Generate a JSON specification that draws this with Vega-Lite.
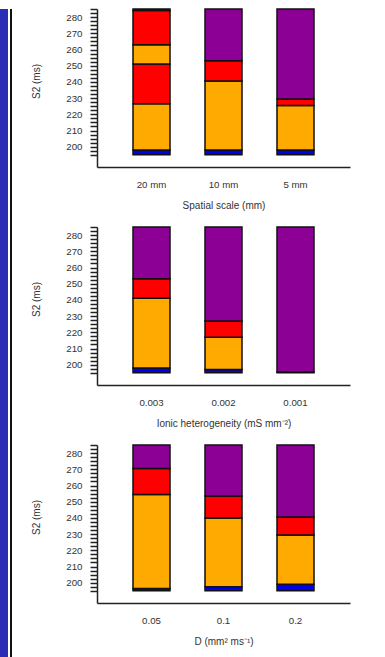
{
  "$schema": "https://vega.github.io/schema/vega-lite/v6.json",
  "background": "white",
  "padding": {"left": 0, "top": 0, "right": 0, "bottom": 0},
  "config": {
    "font": "Liberation Sans",
    "view": {"stroke": null},
    "axis": {
      "grid": false,
      "labelFont": "Liberation Sans",
      "titleFont": "Liberation Sans",
      "labelFontSize": 9.7,
      "titleFontSize": 10,
      "titleFontWeight": "normal",
      "labelColor": "#333333",
      "titleColor": "#333333",
      "domainColor": "#222222",
      "domainWidth": 1.5,
      "tickColor": "#222222",
      "tickWidth": 1.5,
      "labelOverlap": false,
      "labelFlush": false
    }
  },
  "datasets": {
    "spatial": [
      {"cat": "20 mm", "k": "blue", "lo": 195, "hi": 198},
      {"cat": "20 mm", "k": "orange", "lo": 198, "hi": 226.5},
      {"cat": "20 mm", "k": "red", "lo": 226.5, "hi": 251},
      {"cat": "20 mm", "k": "orange", "lo": 251, "hi": 263},
      {"cat": "20 mm", "k": "red", "lo": 263, "hi": 284},
      {"cat": "20 mm", "k": "black", "lo": 284, "hi": 285},
      {"cat": "10 mm", "k": "blue", "lo": 195, "hi": 198},
      {"cat": "10 mm", "k": "orange", "lo": 198, "hi": 240.5},
      {"cat": "10 mm", "k": "red", "lo": 240.5, "hi": 253},
      {"cat": "10 mm", "k": "purple", "lo": 253, "hi": 285},
      {"cat": "5 mm", "k": "blue", "lo": 195, "hi": 198},
      {"cat": "5 mm", "k": "orange", "lo": 198, "hi": 225.5},
      {"cat": "5 mm", "k": "red", "lo": 225.5, "hi": 229.5},
      {"cat": "5 mm", "k": "purple", "lo": 229.5, "hi": 285}
    ],
    "ionic": [
      {"cat": "0.003", "k": "blue", "lo": 195, "hi": 198},
      {"cat": "0.003", "k": "orange", "lo": 198, "hi": 241},
      {"cat": "0.003", "k": "red", "lo": 241, "hi": 253},
      {"cat": "0.003", "k": "purple", "lo": 253, "hi": 285},
      {"cat": "0.002", "k": "blue", "lo": 195, "hi": 197},
      {"cat": "0.002", "k": "orange", "lo": 197, "hi": 217},
      {"cat": "0.002", "k": "red", "lo": 217, "hi": 227},
      {"cat": "0.002", "k": "purple", "lo": 227, "hi": 285},
      {"cat": "0.001", "k": "blue", "lo": 195, "hi": 195.5},
      {"cat": "0.001", "k": "purple", "lo": 195.5, "hi": 285}
    ],
    "diffusion": [
      {"cat": "0.05", "k": "blue", "lo": 195, "hi": 196.5},
      {"cat": "0.05", "k": "orange", "lo": 196.5, "hi": 254.5},
      {"cat": "0.05", "k": "red", "lo": 254.5, "hi": 270.5},
      {"cat": "0.05", "k": "purple", "lo": 270.5, "hi": 285},
      {"cat": "0.1", "k": "blue", "lo": 195, "hi": 197.5},
      {"cat": "0.1", "k": "orange", "lo": 197.5, "hi": 240},
      {"cat": "0.1", "k": "red", "lo": 240, "hi": 253.5},
      {"cat": "0.1", "k": "purple", "lo": 253.5, "hi": 285},
      {"cat": "0.2", "k": "blue", "lo": 195, "hi": 199},
      {"cat": "0.2", "k": "orange", "lo": 199, "hi": 229.5},
      {"cat": "0.2", "k": "red", "lo": 229.5, "hi": 240.5},
      {"cat": "0.2", "k": "purple", "lo": 240.5, "hi": 285}
    ],
    "strip": [{"part": "edge"}]
  },
  "spacing": 13,
  "hconcat": [
    {
      "spacing": 0,
      "hconcat": [
        {"width": 8, "height": 660, "data": {"name": "strip"}, "mark": {"type": "point", "opacity": 0}, "encoding": {}, "view": {"fill": "#2b2db6", "stroke": null}},
        {"width": 2, "height": 660, "data": {"name": "strip"}, "mark": {"type": "point", "opacity": 0}, "encoding": {}, "view": {"fill": "#111111", "stroke": null}}
      ]
    },
    {
      "spacing": 60,
      "bounds": "flush",
      "vconcat": [
        {
          "width": 253, "height": 158,
          "view": {"stroke": "transparent", "strokeWidth": 7},
          "data": {"name": "spatial"},
          "mark": {"type": "bar", "stroke": "#111111", "strokeWidth": 1.5},
          "encoding": {
            "x": {"field": "cat", "type": "nominal", "sort": null,
              "scale": {"paddingInner": 0.486, "paddingOuter": 0.5},
              "axis": {"title": "Spatial scale (mm)", "labelAngle": 0, "ticks": false, "labelPadding": 17.5, "labelBaseline": "middle", "titleY": 38, "titleBaseline": "middle"}},
            "y": {"field": "lo", "type": "quantitative",
              "scale": {"domain": [187.5, 285], "nice": false, "zero": false},
              "axis": {"title": "S2 (ms)", "values": [195, 197.5, 200, 202.5, 205, 207.5, 210, 212.5, 215, 217.5, 220, 222.5, 225, 227.5, 230, 232.5, 235, 237.5, 240, 242.5, 245, 247.5, 250, 252.5, 255, 257.5, 260, 262.5, 265, 267.5, 270, 272.5, 275, 277.5, 280, 282.5, 285],
                "labelExpr": "datum.value % 10 === 0 ? datum.label : ''", "tickSize": 7, "labelPadding": 8, "titleX": -61, "titleY": 72, "titleBaseline": "middle", "titleAlign": "center", "titleAngle": 270}},
            "y2": {"field": "hi"},
            "color": {"field": "k", "type": "nominal", "legend": null,
              "scale": {"domain": ["blue", "orange", "red", "purple", "black"], "range": ["#0000ee", "#ffaa00", "#ff0000", "#8c0096", "#111111"]}}
          }
        },
        {
          "width": 253, "height": 158,
          "data": {"name": "ionic"},
          "mark": {"type": "bar", "stroke": "#111111", "strokeWidth": 1.5},
          "encoding": {
            "x": {"field": "cat", "type": "nominal", "sort": null,
              "scale": {"paddingInner": 0.486, "paddingOuter": 0.5},
              "axis": {"title": "Ionic heterogeneity (mS mm⁻²)", "labelAngle": 0, "ticks": false, "labelPadding": 17.5, "labelBaseline": "middle", "titleY": 38, "titleBaseline": "middle"}},
            "y": {"field": "lo", "type": "quantitative",
              "scale": {"domain": [187.5, 285], "nice": false, "zero": false},
              "axis": {"title": "S2 (ms)", "values": [195, 197.5, 200, 202.5, 205, 207.5, 210, 212.5, 215, 217.5, 220, 222.5, 225, 227.5, 230, 232.5, 235, 237.5, 240, 242.5, 245, 247.5, 250, 252.5, 255, 257.5, 260, 262.5, 265, 267.5, 270, 272.5, 275, 277.5, 280, 282.5, 285],
                "labelExpr": "datum.value % 10 === 0 ? datum.label : ''", "tickSize": 7, "labelPadding": 8, "titleX": -61, "titleY": 72, "titleBaseline": "middle", "titleAlign": "center", "titleAngle": 270}},
            "y2": {"field": "hi"},
            "color": {"field": "k", "type": "nominal", "legend": null,
              "scale": {"domain": ["blue", "orange", "red", "purple", "black"], "range": ["#0000ee", "#ffaa00", "#ff0000", "#8c0096", "#111111"]}}
          }
        },
        {
          "width": 253, "height": 158,
          "data": {"name": "diffusion"},
          "mark": {"type": "bar", "stroke": "#111111", "strokeWidth": 1.5},
          "encoding": {
            "x": {"field": "cat", "type": "nominal", "sort": null,
              "scale": {"paddingInner": 0.486, "paddingOuter": 0.5},
              "axis": {"title": "D (mm² ms⁻¹)", "labelAngle": 0, "ticks": false, "labelPadding": 17.5, "labelBaseline": "middle", "titleY": 38, "titleBaseline": "middle"}},
            "y": {"field": "lo", "type": "quantitative",
              "scale": {"domain": [187.5, 285], "nice": false, "zero": false},
              "axis": {"title": "S2 (ms)", "values": [195, 197.5, 200, 202.5, 205, 207.5, 210, 212.5, 215, 217.5, 220, 222.5, 225, 227.5, 230, 232.5, 235, 237.5, 240, 242.5, 245, 247.5, 250, 252.5, 255, 257.5, 260, 262.5, 265, 267.5, 270, 272.5, 275, 277.5, 280, 282.5, 285],
                "labelExpr": "datum.value % 10 === 0 ? datum.label : ''", "tickSize": 7, "labelPadding": 8, "titleX": -61, "titleY": 72, "titleBaseline": "middle", "titleAlign": "center", "titleAngle": 270}},
            "y2": {"field": "hi"},
            "color": {"field": "k", "type": "nominal", "legend": null,
              "scale": {"domain": ["blue", "orange", "red", "purple", "black"], "range": ["#0000ee", "#ffaa00", "#ff0000", "#8c0096", "#111111"]}}
          }
        }
      ]
    }
  ]
}
